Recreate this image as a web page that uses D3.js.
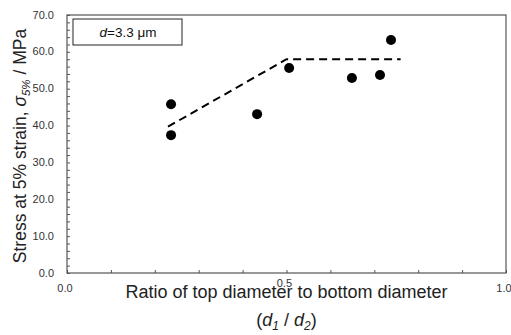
<html>
<head>
<script src="https://d3js.org/d3.v7.min.js"></script>
<style>
body { margin: 0; background: #fff; }
text { font-family: "Liberation Sans", Arial, sans-serif; }
</style>
</head>
<body>
<script>
// measured points
var ratio  = [0.237, 0.237, 0.433, 0.506, 0.649, 0.713, 0.738];
var stress = [45.8, 37.4, 43.1, 55.6, 52.9, 53.7, 63.2];
// dashed trend line (bilinear)
var fitX = [0.23, 0.50, 0.76];
var fitY = [39.7, 58.0, 58.0];
var xTickLabels = [0, 0.5, 1.0];
var yTickLabels = [0, 10, 20, 30, 40, 50, 60, 70];

var W = 511, H = 335;
var margin = {top: 15, right: 5, bottom: 62, left: 67};

var svg = d3.select("body").append("svg")
    .attr("width", W).attr("height", H);

var x = d3.scaleLinear().domain([0, 1]).range([margin.left, W - margin.right]);
var y = d3.scaleLinear().domain([0, 70]).range([H - margin.bottom, margin.top]);

// minor ticks (inside)
var gx = svg.append("g").attr("transform", "translate(0," + y(0) + ")")
    .call(d3.axisBottom(x).tickValues(d3.range(0, 1.001, 0.1)).tickSize(-3).tickFormat(""));
var gy = svg.append("g").attr("transform", "translate(" + x(0) + ",0)")
    .call(d3.axisLeft(y).tickValues(d3.range(0, 70.1, 2)).tickSize(-3).tickFormat(""));
[gx, gy].forEach(function(g) {
  g.select(".domain").remove();
  g.selectAll("line").attr("stroke", "#555");
});

// frame
svg.append("rect")
    .attr("x", x(0)).attr("y", y(70))
    .attr("width", x(1) - x(0)).attr("height", y(0) - y(70))
    .attr("fill", "none").attr("stroke", "#555").attr("stroke-width", 1.2);

// tick labels
svg.selectAll(".yl").data(yTickLabels).enter().append("text")
    .attr("x", x(0) - 13).attr("y", function(d) { return y(d) + 3.5; })
    .attr("text-anchor", "end").attr("font-size", 11).attr("fill", "#333")
    .text(function(d) { return d.toFixed(1); });
svg.selectAll(".xl").data(xTickLabels).enter().append("text")
    .attr("x", function(d) { return x(d) - 2; }).attr("y", function(d) { return d == 0.5 ? 287 : 292; })
    .attr("text-anchor", "middle").attr("font-size", 11).attr("fill", "#333")
    .text(function(d) { return d.toFixed(1); });

// trend line
var pts = fitX.map(function(d, i) { return [d, fitY[i]]; });
svg.append("path")
    .attr("d", d3.line().x(function(d) { return x(d[0]); }).y(function(d) { return y(d[1]); })(pts))
    .attr("fill", "none").attr("stroke", "#000").attr("stroke-width", 2)
    .attr("stroke-dasharray", "8,5");

// points
svg.selectAll(".pt").data(ratio).enter().append("circle")
    .attr("cx", function(d) { return x(d); })
    .attr("cy", function(d, i) { return y(stress[i]); })
    .attr("r", 5).attr("fill", "#000");

// legend box
svg.append("rect").attr("x", 73).attr("y", 19).attr("width", 109).attr("height", 26)
    .attr("fill", "#fff").attr("stroke", "#222").attr("stroke-width", 1);
var lt = svg.append("text").attr("x", 128).attr("y", 37).attr("text-anchor", "middle")
    .attr("font-size", 13.5).attr("fill", "#111");
lt.append("tspan").attr("font-style", "italic").text("d");
lt.append("tspan").text("=3.3 μm");

// y title
var yt = svg.append("text")
    .attr("transform", "translate(26," + ((y(0) + y(70)) / 2 + 2) + ") rotate(-90)")
    .attr("text-anchor", "middle").attr("font-size", 17.5).attr("fill", "#222");
yt.append("tspan").text("Stress at 5% strain, ");
yt.append("tspan").attr("font-style", "italic").text("σ");
yt.append("tspan").attr("font-style", "italic").attr("font-size", 11.5).attr("dy", 4).text("5%");
yt.append("tspan").attr("dy", -4).text(" / MPa");

// x title
var cx = (x(0) + x(1)) / 2;
svg.append("text").attr("x", cx).attr("y", 298).attr("text-anchor", "middle")
    .attr("font-size", 18).attr("fill", "#222")
    .text("Ratio of top diameter to bottom diameter");
var xt = svg.append("text").attr("x", cx).attr("y", 326).attr("text-anchor", "middle")
    .attr("font-size", 18).attr("fill", "#222");
xt.append("tspan").text("(");
xt.append("tspan").attr("font-style", "italic").text("d");
xt.append("tspan").attr("font-style", "italic").attr("font-size", 12).attr("dy", 4).text("1");
xt.append("tspan").attr("dy", -4).text(" / ");
xt.append("tspan").attr("font-style", "italic").text("d");
xt.append("tspan").attr("font-style", "italic").attr("font-size", 12).attr("dy", 4).text("2");
xt.append("tspan").attr("dy", -4).text(")");
</script>
</body>
</html>
